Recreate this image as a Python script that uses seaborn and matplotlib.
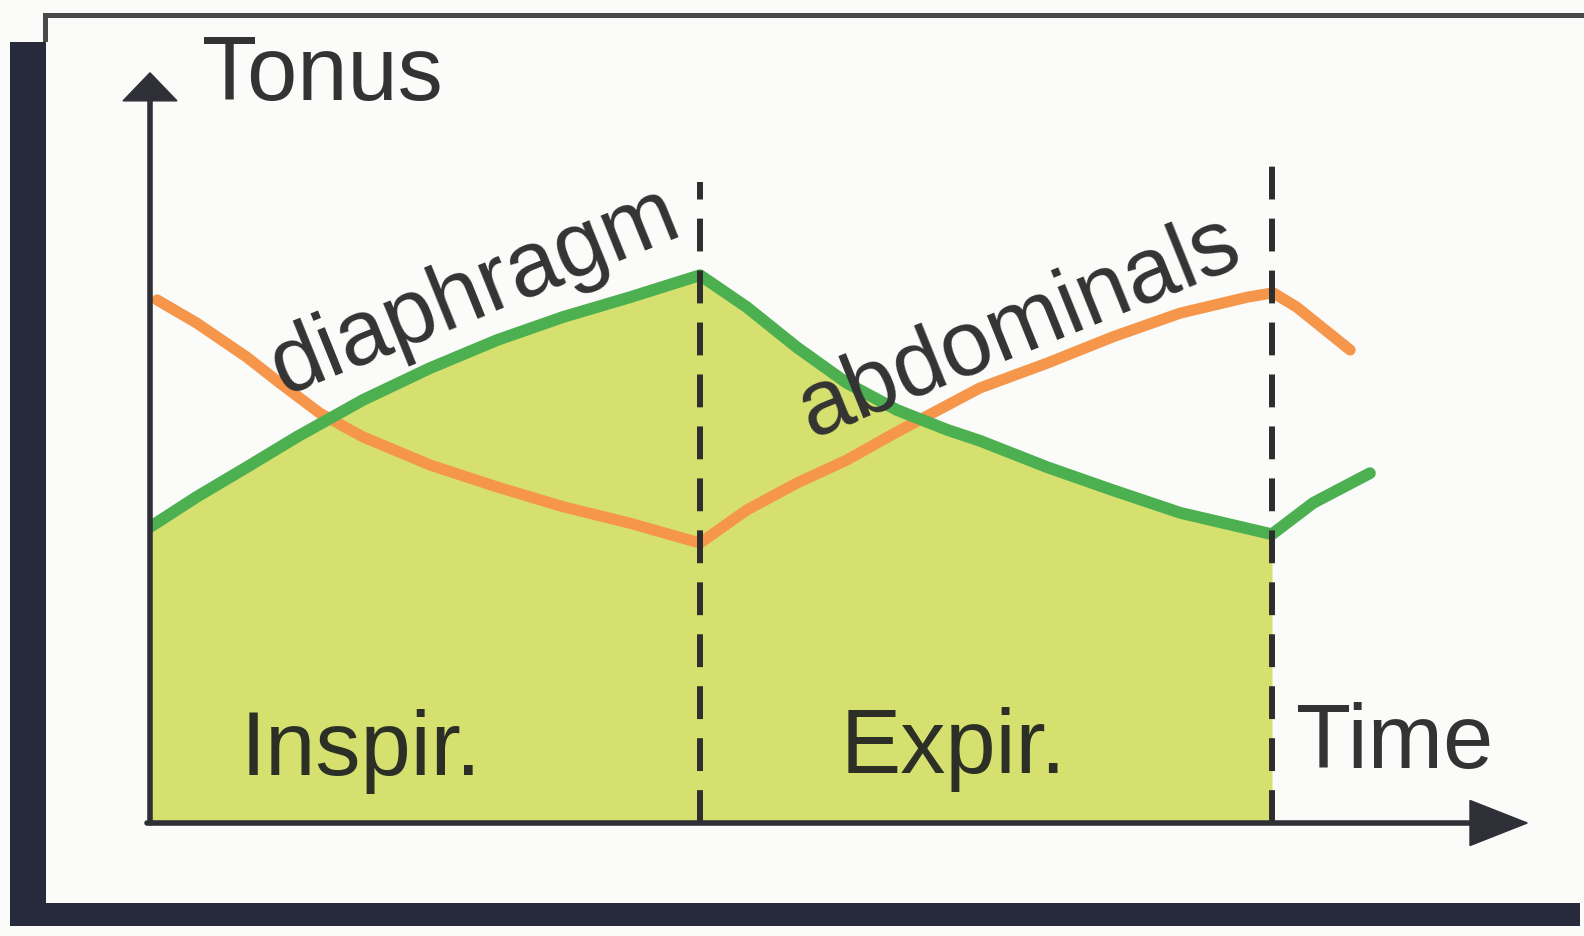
import pandas as pd
import matplotlib.pyplot as plt
import seaborn as sns
from matplotlib.patches import Rectangle, Polygon

# 시간축 (임의 단위): 흡기 0 ~ 1, 호기 1 ~ 2.04
insp_end = 1.0
exp_end = 2.04

# 횡격막(diaphragm) 긴장도
diaphragm_t = [0.0, 0.085, 0.176, 0.267, 0.387, 0.509, 0.631, 0.751, 0.873, 1.0,
               1.085, 1.176, 1.267, 1.358, 1.449, 1.509, 1.631, 1.751, 1.873, 2.04,
               2.115, 2.218]
diaphragm_tonus = [0.538, 0.593, 0.647, 0.702, 0.769, 0.827, 0.878, 0.920, 0.956, 0.996,
                   0.938, 0.865, 0.800, 0.751, 0.715, 0.695, 0.647, 0.605, 0.564, 0.525,
                   0.582, 0.636]

# 복근(abdominals) 긴장도
abdominals_t = [0.013, 0.085, 0.176, 0.236, 0.309, 0.387, 0.509, 0.631, 0.751, 0.873, 1.0,
                1.085, 1.176, 1.267, 1.358, 1.509, 1.631, 1.751, 1.873, 1.995, 2.042,
                2.085, 2.182]
abdominals_tonus = [0.951, 0.909, 0.847, 0.800, 0.745, 0.702, 0.651, 0.611, 0.575, 0.545, 0.509,
                    0.569, 0.618, 0.660, 0.711, 0.791, 0.836, 0.884, 0.927, 0.956, 0.964,
                    0.938, 0.860]

phase_labels = ['Inspir.', 'Expir.']
phase_label_t = [0.165, 1.256]
phase_label_y = [0.087, 0.091]
y_label = 'Tonus'
x_label = 'Time'

green = '#4caf50'
orange = '#f5964a'
fill_col = '#d6e06e'
ink = '#333333'

sns.set_theme(style='white')
plt.rcParams['font.family'] = ['Liberation Sans', 'DejaVu Sans']

W, H = 1584, 936
fig = plt.figure(figsize=(W / 100, H / 100), dpi=100, facecolor='#fbfbf9')


def px_rect(x0, y0, x1, y1, color):
    fig.add_artist(Rectangle((x0 / W, 1 - y1 / H), (x1 - x0) / W, (y1 - y0) / H,
                             transform=fig.transFigure, color=color, lw=0))


# 바깥 상자 + 그림자
px_rect(43, 13, 1584, 18, '#4a4a4a')
px_rect(43, 13, 48, 42, '#4a4a4a')
px_rect(10, 42, 46, 926, '#262a3a')
px_rect(10, 903, 1580, 926, '#262a3a')

# 축 영역 (1 단위 = 550 px, 원점 = (150, 823) px)
ax = fig.add_axes([150 / W, (H - 823) / H, 1390 / W, 783 / H])
ax.set_xlim(0, 1390 / 550)
ax.set_ylim(0, 783 / 550)
ax.set_facecolor('none')
ax.axis('off')

# 채우기 (호기 끝까지만)
n_fill = diaphragm_t.index(exp_end) + 1
ax.fill_between(diaphragm_t[:n_fill], 0, diaphragm_tonus[:n_fill],
                color=fill_col, lw=0, zorder=1)

# 곡선
sns.lineplot(x=diaphragm_t, y=diaphragm_tonus, ax=ax, color=green, linewidth=8.5,
             sort=False, zorder=3)
sns.lineplot(x=abdominals_t, y=abdominals_tonus, ax=ax, color=orange, linewidth=8.0,
             sort=False, zorder=2)
for ln in ax.lines:
    ln.set_solid_joinstyle('round')

# 위상 경계 점선
ax.vlines(insp_end, 0, 1.165, color='#2e2e2e', lw=4.3,
          linestyles=(0, (5.5, 3.2)), zorder=4)
ax.vlines(exp_end, 0, 1.224, color='#2e2e2e', lw=4.3,
          linestyles=(0, (5.5, 3.2)), zorder=4)

# 축 화살표
axis_col = '#2f2f38'
ax.plot([0, 0], [0, 1.32], color=axis_col, lw=4.0, clip_on=False, zorder=5)
ax.plot([-0.005, 2.41], [0, 0], color=axis_col, lw=4.0, clip_on=False, zorder=5)
ax.add_patch(Polygon([(-0.049, 1.313), (0.049, 1.313), (0, 1.364)], closed=True,
                     color=axis_col, clip_on=False, zorder=5))
ax.add_patch(Polygon([(2.40, 0.041), (2.40, -0.041), (2.504, 0)], closed=True,
                     color=axis_col, clip_on=False, zorder=5))

# 텍스트
fs = 65
ax.text(0.095, 1.315, y_label, fontsize=fs, color=ink, ha='left', va='baseline')
ax.text(2.084, 0.10, x_label, fontsize=fs, color=ink, ha='left', va='baseline')
for lab, t, y in zip(phase_labels, phase_label_t, phase_label_y):
    ax.text(t, y, lab, fontsize=fs, color='#2c2f25', ha='left', va='baseline')

ax.text(0.242, 0.778, 'diaphragm', fontsize=66, color=ink, rotation=22,
        rotation_mode='anchor', ha='left', va='baseline', zorder=6)
ax.text(1.201, 0.700, 'abdominals', fontsize=66, color=ink, rotation=22,
        rotation_mode='anchor', ha='left', va='baseline', zorder=6)

fig.savefig('out.png', dpi=100, facecolor=fig.get_facecolor())
